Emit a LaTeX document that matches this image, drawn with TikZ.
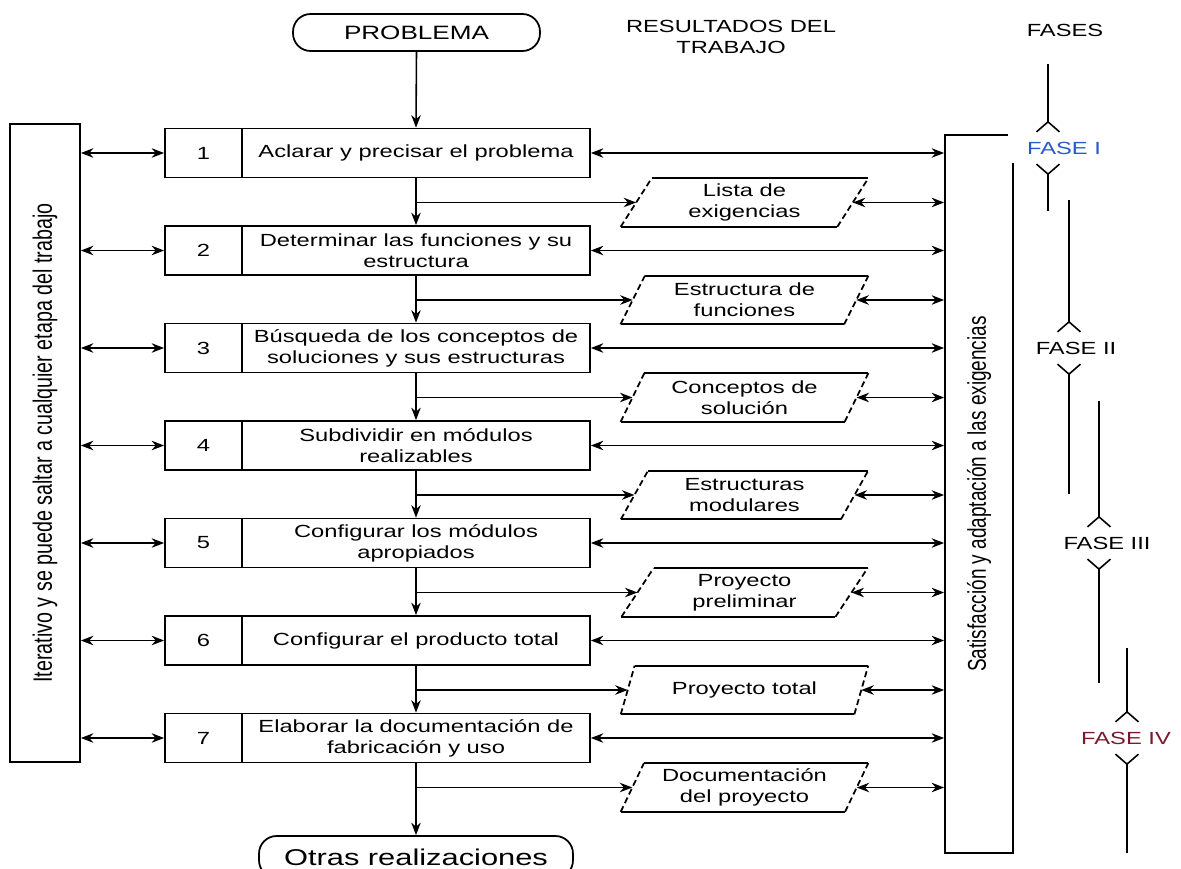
\documentclass[tikz,border=0pt]{standalone}
\usepackage{fontspec}
\setmainfont{Liberation Sans}[FakeStretch=1.35]
\newfontfamily\rotfont{Liberation Sans}
\usepackage{tikz}
\usetikzlibrary{arrows.meta,positioning,shapes.geometric}
\definecolor{faseazul}{RGB}{40,90,200}
\definecolor{faserojo}{RGB}{120,25,45}
\tikzset{
  caja/.style    ={draw, line width=1pt, inner sep=2pt, minimum height=0.98cm},
  numcell/.style ={caja, minimum width=1.54cm},
  pasocell/.style={caja, minimum width=6.96cm, align=center},
  resultado/.style={trapezium, trapezium left angle=65, trapezium right angle=115,
                    trapezium stretches=true, minimum width=4.94cm,
                    minimum height=0.96cm, align=center, inner sep=1pt},
  resborde/.style={line width=1pt},
  reslado/.style ={line width=1pt, dash pattern=on 3.5pt off 2pt},
  terminal/.style={draw, rounded corners=10pt, line width=1pt, inner sep=2pt},
  lado/.style    ={draw, line width=1pt, inner sep=0pt},
  flujo/.style   ={-{Stealth[length=2.5mm,width=1.9mm]}, line width=0.9pt},
  doble/.style   ={{Stealth[length=2.5mm,width=1.9mm]}-{Stealth[length=2.5mm,width=1.9mm]}, line width=0.9pt},
  fasebar/.style ={-{Straight Barb[reversed,length=2mm,width=4.6mm]}, line width=0.9pt},
  faselbl/.style ={fill=white, inner sep=0pt, minimum height=0.6cm},
}

\begin{document}
\begin{tikzpicture}[x=0.02cm, y=-0.02cm]
  \useasboundingbox (0,0) rectangle (1181,869);
  \clip (0,0) rectangle (1181,869);
  % cabecera
  \node[terminal, minimum width=4.94cm, minimum height=0.74cm, font=\fontsize{11}{13}\selectfont]
    (problema) at (416.5,32.5) {PROBLEMA};
  \node[align=center] (resultados) at (731,37) {RESULTADOS DEL\\TRABAJO};
  \node (fases) at (1065,30) {FASES};
  % columnas laterales
  \node[lado, minimum width=1.4cm, minimum height=12.76cm] (iter) at (45,443)
    {\rotatebox{90}{\scalebox{1}[1.35]{\rotfont\fontsize{11.2}{13}\selectfont Iterativo y se puede saltar a cualquier etapa del trabajo}}};
  \node[lado, minimum width=1.36cm, minimum height=14.36cm] (satis) at (979,494)
    {\rotatebox{90}{\scalebox{1}[1.35]{\rotfont\fontsize{10.8}{13}\selectfont Satisfacción y adaptación a las exigencias}}};
  % etapas y resultados
  \foreach \n/\paso/\resu [evaluate=\n as \yy using 153+(\n-1)*97.5] in {
    1/{Aclarar y precisar el problema}/{Lista de\\exigencias},
    2/{Determinar las funciones y su\\estructura}/{Estructura de\\funciones},
    3/{Búsqueda de los conceptos de\\soluciones y sus estructuras}/{Conceptos de\\solución},
    4/{Subdividir en módulos\\realizables}/{Estructuras\\modulares},
    5/{Configurar los módulos\\apropiados}/{Proyecto\\preliminar},
    6/{Configurar el producto total}/{Proyecto total},
    7/{Elaborar la documentación de\\fabricación y uso}/{Documentación\\del proyecto}} {
    \node[numcell] (n\n) at (203.5,\yy) {\n};
    \node[pasocell] (t\n) at (416,\yy) {\paso};
    \node[resultado] (r\n) at (744.5,\yy+49.5) {\resu};
    \draw[resborde] (r\n.top left corner) -- (r\n.top right corner)
                    (r\n.bottom left corner) -- (r\n.bottom right corner);
    \draw[reslado] (r\n.bottom left corner) -- (r\n.top left corner)
                   (r\n.bottom right corner) -- (r\n.top right corner);
    \draw[doble] (iter.east |- n\n.west) -- (n\n.west);
    \draw[doble] (t\n.east) -- (t\n.east -| satis.west);
    \draw[flujo] (t\n.south |- r\n.west) -- (r\n.west);
    \draw[doble] (r\n.east) -- (r\n.east -| satis.west);
  }
  \node[terminal, minimum width=6.28cm, minimum height=0.84cm, font=\fontsize{13}{15}\selectfont]
    (otras) at (416,857) {Otras realizaciones};
  % flujo principal
  \draw[flujo] (problema.south) -- (t1.north);
  \foreach \n [count=\m from 2] in {1,...,6}
    \draw[flujo] (t\n.south) -- (t\m.north);
  \draw[flujo] (t7.south) -- (otras.north);
  % fases
  \node[faselbl, minimum width=2.24cm, text=faseazul] (f1) at (1064,148) {FASE I};
  \node[faselbl] (f2) at (1076,348) {FASE II};
  \node[faselbl] (f3) at (1107,543) {FASE III};
  \node[faselbl, text=faserojo] (f4) at (1126,738) {FASE IV};
  \coordinate (top1) at (1048,64);  \coordinate (bot1) at (1048,211);
  \coordinate (top2) at (1069,200); \coordinate (bot2) at (1069,494);
  \coordinate (top3) at (1099,401); \coordinate (bot3) at (1099,683);
  \coordinate (top4) at (1127,648); \coordinate (bot4) at (1127,853);
  \foreach \f in {1,...,4} {
    \draw[fasebar] (top\f) -- (top\f |- f\f.north);
    \draw[fasebar] (bot\f) -- (bot\f |- f\f.south);
  }
\end{tikzpicture}
\end{document}
